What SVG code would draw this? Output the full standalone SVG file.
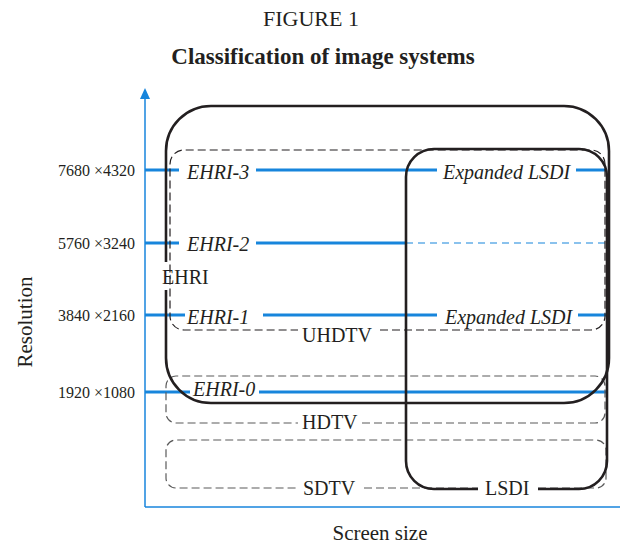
<svg xmlns="http://www.w3.org/2000/svg" width="620" height="544" viewBox="0 0 620 544">
<style>
text{font-family:"Liberation Serif","Times New Roman",serif;fill:#231f20}
.title{font-size:22px}
.sub{font-size:23px;font-weight:bold}
.tick{font-size:16px}
.ax{font-size:21px}
.lab{font-size:20px}
.it{font-size:20px;font-style:italic}
.blue{stroke:#1785dc;stroke-width:3;fill:none}
.bluedash{stroke:#1785dc;stroke-width:1.2;stroke-dasharray:7 5;fill:none}
.axis{stroke:#1785dc;stroke-width:1.5;fill:none}
.solid{stroke:#231f20;stroke-width:2.6;fill:none}
.dk{stroke:#231f20;stroke-width:1.2;stroke-dasharray:8 4;fill:none}
.gr{stroke:#5a5a5a;stroke-width:1.2;stroke-dasharray:8 4;fill:none}
</style>
<rect width="620" height="544" fill="#fff"/>
<text class="title" x="311" y="26" text-anchor="middle">FIGURE 1</text>
<text class="sub" x="323" y="64" text-anchor="middle">Classification of image systems</text>

<g id="axes">
<line class="axis" x1="145" y1="97" x2="145" y2="507"/>
<line class="axis" x1="145" y1="507" x2="620" y2="507"/>
<polygon points="145,88 140,99 150,99" fill="#1785dc"/>
<text class="ax" transform="translate(32,322) rotate(-90)" text-anchor="middle">Resolution</text>
<text class="ax" x="380" y="540" text-anchor="middle">Screen size</text>
<text class="tick" x="135" y="176" text-anchor="end">7680 ×4320</text>
<text class="tick" x="135" y="249" text-anchor="end">5760 ×3240</text>
<text class="tick" x="135" y="321" text-anchor="end">3840 ×2160</text>
<text class="tick" x="135" y="398" text-anchor="end">1920 ×1080</text>
</g>

<g id="connectors">
<path class="blue" d="M145,170H179M256,170H437M576,170H606"/>
<path class="blue" d="M145,243H179M256,243H406"/>
<path class="bluedash" d="M406,243H607"/>
<path class="blue" d="M145,315H185M263,315H437M578,315H606"/>
<path class="blue" d="M145,392H190M259,392H606"/>
</g>

<g id="SDTV">
<path class="gr" d="M538,488H596A10,10 0 0 0 606,478V450A10,10 0 0 0 596,440H176A10,10 0 0 0 166,450V478A10,10 0 0 0 176,488H296M364,488H478"/>
<text class="lab" x="303" y="495">SDTV</text>
</g>
<g id="HDTV">
<path class="gr" d="M362,423H595A10,10 0 0 0 605,413V386A10,10 0 0 0 595,376H176A10,10 0 0 0 166,386V413A10,10 0 0 0 176,423H298"/>
<text class="lab" x="302" y="429">HDTV</text>
</g>
<g id="UHDTV">
<path class="dk" d="M380,330H591A14,14 0 0 0 605,316V164A14,14 0 0 0 591,150H184A14,14 0 0 0 170,164V316A14,14 0 0 0 184,330H298"/>
<text class="lab" x="302" y="342">UHDTV</text>
</g>

<g id="EHRI">
<path class="solid" d="M166,290V358A45,45 0 0 0 211,403H564A45,45 0 0 0 609,358V151A45,45 0 0 0 564,106H211A45,45 0 0 0 166,151V262"/>
<text class="lab" x="162" y="284">EHRI</text>
</g>
<g id="LSDI">
<path class="solid" d="M538,489H579A28,28 0 0 0 607,461V177A28,28 0 0 0 579,149H434A28,28 0 0 0 406,177V461A28,28 0 0 0 434,489H478"/>
<text class="lab" x="485" y="495">LSDI</text>
</g>

<g id="levels">
<text class="it" x="187" y="179">EHRI-3</text>
<text class="it" x="443" y="179">Expanded LSDI</text>
<text class="it" x="187" y="251">EHRI-2</text>
<text class="it" x="187" y="324">EHRI-1</text>
<text class="it" x="445" y="324">Expanded LSDI</text>
<text class="it" x="193" y="396">EHRI-0</text>
</g>
</svg>
